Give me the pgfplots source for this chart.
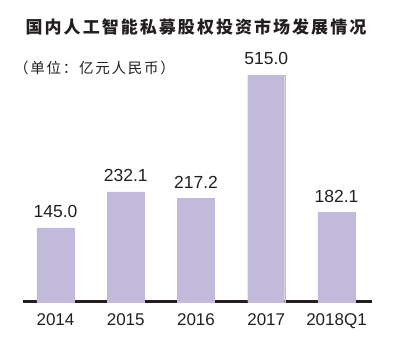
\documentclass[border=0pt]{standalone}
\usepackage{fontspec}
\setmainfont{Liberation Sans}
\newfontfamily\cjk{Noto Sans CJK SC}
\usepackage{pgfplots}
\pgfplotsset{compat=1.18}
\definecolor{barc}{RGB}{194,186,219}
\definecolor{txt}{RGB}{35,31,32}
\begin{document}
\begin{tikzpicture}
\path (0,0) rectangle (400pt,363pt);
\node[font=\cjk\bfseries\fontsize{17}{17}\selectfont\addfontfeature{LetterSpace=12}, text=txt, inner sep=0] at (196pt,335.5pt) {国内人工智能私募股权投资市场发展情况};
\node[font=\cjk\fontsize{14.5}{14.5}\selectfont\addfontfeature{LetterSpace=12}, text=txt, inner sep=0, anchor=west] at (14pt,295pt) {（单位：亿元人民币）};
\begin{axis}[
  at={(55.5pt,75.06pt)}, anchor=origin,
  x=70.25pt, y=0.4135pt,
  xmin=-0.46, xmax=4.5, ymin=-34, ymax=560,
  ybar, bar width=37pt, bar shift=0pt,
  axis x line*=bottom, axis y line=none,
  x axis line style={line width=3pt, color=txt, -},
  xtick={0,1,2,3,4},
  xticklabels={2014,2015,2016,2017,2018Q1},
  major tick length=0pt,
  xticklabel style={font=\fontsize{17}{17}\selectfont, text=txt, anchor=base, yshift=-24pt},
  clip=false,
]
% the source draws its bars from a base below zero: this fills that visual offset
\addplot[fill=barc, draw=barc, line width=0.4pt] coordinates {(0,-34) (1,-34) (2,-34) (3,-34) (4,-34)};
\addplot[fill=barc, draw=barc, line width=0.4pt,
  nodes near coords, point meta=explicit symbolic,
  every node near coord/.append style={font=\fontsize{17.5}{17.5}\selectfont, text=txt, anchor=base, yshift=10pt, inner sep=0}]
  coordinates {(0,145.0) [145.0] (1,232.1) [232.1] (2,217.2) [217.2] (3,515.0) [515.0] (4,182.1) [182.1]};
\end{axis}
\end{tikzpicture}
\end{document}
